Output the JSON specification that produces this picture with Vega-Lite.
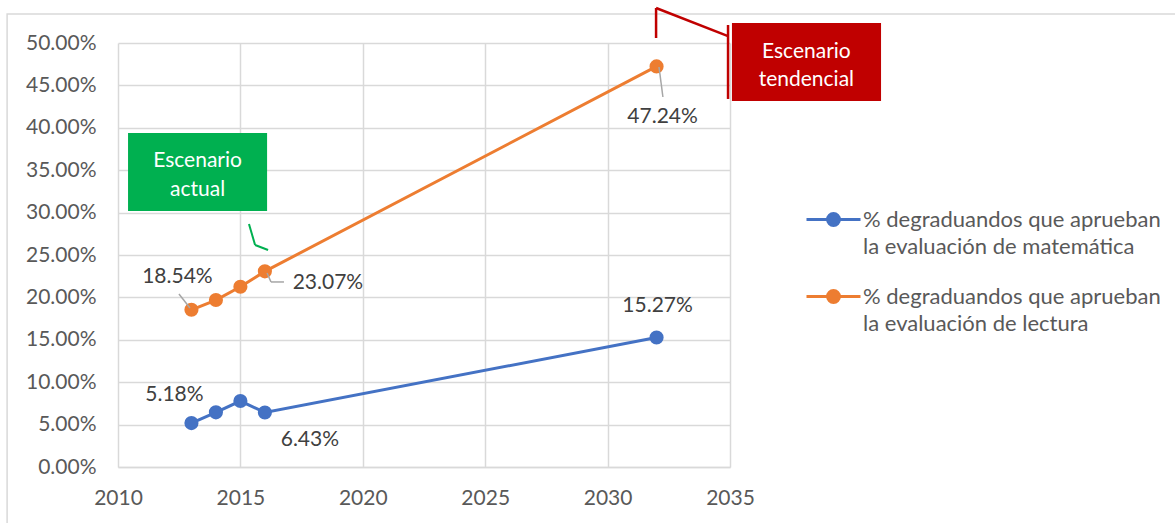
{
  "$schema": "https://vega.github.io/schema/vega-lite/v6.json",
  "width": 612,
  "height": 424,
  "autosize": {"type": "none"},
  "padding": {"left": 118, "top": 43, "right": 445, "bottom": 56},
  "background": "white",
  "config": {
    "font": "Lato",
    "view": {"stroke": null},
    "axis": {
      "labelFont": "Lato",
      "labelFontSize": 21,
      "labelColor": "#595959",
      "gridColor": "#d9d9d9",
      "gridWidth": 1.5,
      "domainColor": "#d9d9d9",
      "domainWidth": 1.5,
      "ticks": false,
      "labelFlush": false,
      "labelOverlap": false,
      "title": null
    }
  },
  "datasets": {
    "series": [
      {"serie": "mat", "anio": 2013, "valor": 0.0518},
      {"serie": "mat", "anio": 2014, "valor": 0.0645},
      {"serie": "mat", "anio": 2015, "valor": 0.0778},
      {"serie": "mat", "anio": 2016, "valor": 0.0643},
      {"serie": "mat", "anio": 2032, "valor": 0.1527},
      {"serie": "lec", "anio": 2013, "valor": 0.1854},
      {"serie": "lec", "anio": 2014, "valor": 0.1969},
      {"serie": "lec", "anio": 2015, "valor": 0.2126},
      {"serie": "lec", "anio": 2016, "valor": 0.2307},
      {"serie": "lec", "anio": 2032, "valor": 0.4724}
    ],
    "leaders": [
      {"a": 2012.49, "b": 0.2040, "a2": 2012.94, "b2": 0.1875},
      {"a": 2016.09, "b": 0.2288, "a2": 2016.25, "b2": 0.2182},
      {"a": 2016.25, "b": 0.2182, "a2": 2016.78, "b2": 0.2182},
      {"a": 2032.10, "b": 0.4717, "a2": 2032.26, "b2": 0.4363}
    ],
    "green": [
      {"a": 2015.35, "b": 0.2865, "a2": 2015.60, "b2": 0.2618},
      {"a": 2015.60, "b": 0.2618, "a2": 2016.13, "b2": 0.2559}
    ],
    "red": [
      {"a": 2031.98, "b": 0.5059, "a2": 2031.98, "b2": 0.5413},
      {"a": 2031.98, "b": 0.5413, "a2": 2034.92, "b2": 0.5082},
      {"a": 2034.92, "b": 0.5212, "a2": 2034.92, "b2": 0.4340}
    ]
  },
  "layer": [
    {
      "data": {"values": [{}]},
      "mark": {"type": "rect", "fill": null, "stroke": "#d9d9d9", "strokeWidth": 1.5},
      "encoding": {
        "x": {"datum": 2005.47, "type": "quantitative", "scale": {"domain": [2010, 2035], "nice": false, "zero": false}},
        "x2": {"datum": 2070},
        "y": {"datum": 0.5342, "type": "quantitative", "scale": {"domain": [0, 0.5], "nice": false}},
        "y2": {"datum": -0.3}
      }
    },
    {
      "data": {"name": "series"},
      "mark": {"type": "line", "strokeWidth": 3, "point": {"filled": true, "size": 200, "opacity": 1}},
      "encoding": {
        "x": {
          "field": "anio", "type": "quantitative",
          "scale": {"domain": [2010, 2035], "nice": false, "zero": false},
          "axis": {"values": [2010, 2015, 2020, 2025, 2030, 2035], "format": "d", "labelPadding": 20, "grid": true, "domain": true, "labelFlush": false}
        },
        "y": {
          "field": "valor", "type": "quantitative",
          "scale": {"domain": [0, 0.5], "nice": false},
          "axis": {"values": [0, 0.05, 0.1, 0.15, 0.2, 0.25, 0.3, 0.35, 0.4, 0.45, 0.5], "format": ".2%", "labelPadding": 22, "grid": true, "domain": false, "labelFlush": false}
        },
        "color": {
          "field": "serie", "type": "nominal",
          "scale": {"domain": ["mat", "lec"], "range": ["#4472C4", "#ED7D31"]},
          "legend": {
            "title": null,
            "orient": "none",
            "legendX": 687,
            "legendY": 148,
            "padding": 0,
            "symbolType": "M-1,0L1,0M-0.22,0A0.22,0.22,0,1,1,0.22,0A0.22,0.22,0,1,1,-0.22,0Z",
            "symbolSize": 2916,
            "symbolStrokeWidth": 3,
            "labelFont": "Lato",
            "labelFontSize": 22,
            "labelColor": "#595959",
            "labelLimit": 500,
            "labelOffset": 1,
            "rowPadding": 10,
            "labelBaseline": "middle",
            "labelExpr": "datum.value == 'mat' ? ['% degraduandos que aprueban', 'la evaluación de matemática'] : ['% degraduandos que aprueban', 'la evaluación de lectura']",
            "encode": {
              "symbols": {"update": {"fill": {"scale": "color", "field": "value"}, "stroke": {"scale": "color", "field": "value"}, "strokeWidth": {"value": 3}}},
              "labels": {"update": {"lineHeight": {"value": 27.5}}}
            }
          }
        }
      }
    },
    {
      "data": {"name": "leaders"},
      "mark": {"type": "rule", "color": "#A6A6A6", "strokeWidth": 1.5},
      "encoding": {"x": {"field": "a", "type": "quantitative"}, "y": {"field": "b", "type": "quantitative"}, "x2": {"field": "a2"}, "y2": {"field": "b2"}}
    },
    {
      "data": {"name": "green"},
      "mark": {"type": "rule", "color": "#00B050", "strokeWidth": 2},
      "encoding": {"x": {"field": "a", "type": "quantitative"}, "y": {"field": "b", "type": "quantitative"}, "x2": {"field": "a2"}, "y2": {"field": "b2"}}
    },
    {
      "data": {"name": "red"},
      "mark": {"type": "rule", "color": "#C00000", "strokeWidth": 2.5},
      "encoding": {"x": {"field": "a", "type": "quantitative"}, "y": {"field": "b", "type": "quantitative"}, "x2": {"field": "a2"}, "y2": {"field": "b2"}}
    },
    {
      "data": {"values": [{}]},
      "mark": {"type": "rect", "fill": "#00B050"},
      "encoding": {"x": {"datum": 2010.41, "type": "quantitative"}, "x2": {"datum": 2016.09}, "y": {"datum": 0.3939, "type": "quantitative"}, "y2": {"datum": 0.3019}}
    },
    {
      "data": {"values": [{}]},
      "mark": {"type": "text", "text": ["Escenario", "actual"], "color": "white", "fontSize": 21, "lineHeight": 29, "align": "center", "baseline": "middle", "dy": -14},
      "encoding": {"x": {"datum": 2013.25, "type": "quantitative"}, "y": {"datum": 0.3443, "type": "quantitative"}}
    },
    {
      "data": {"values": [{}]},
      "mark": {"type": "rect", "fill": "#C00000"},
      "encoding": {"x": {"datum": 2035.08, "type": "quantitative"}, "x2": {"datum": 2041.17}, "y": {"datum": 0.5236, "type": "quantitative"}, "y2": {"datum": 0.4316}}
    },
    {
      "data": {"values": [{}]},
      "mark": {"type": "text", "text": ["Escenario", "tendencial"], "color": "white", "fontSize": 21, "lineHeight": 28, "align": "center", "baseline": "middle", "dy": -14},
      "encoding": {"x": {"datum": 2038.12, "type": "quantitative"}, "y": {"datum": 0.4729, "type": "quantitative"}}
    },
    {
      "data": {"name": "series"},
      "transform": [{"filter": "datum.serie == 'mat' && datum.anio == 2013"}],
      "mark": {"type": "text", "fontSize": 21, "color": "#404040", "dx": -17, "dy": -28},
      "encoding": {"x": {"field": "anio", "type": "quantitative"}, "y": {"field": "valor", "type": "quantitative"}, "text": {"field": "valor", "format": ".2%"}}
    },
    {
      "data": {"name": "series"},
      "transform": [{"filter": "datum.serie == 'mat' && datum.anio == 2016"}],
      "mark": {"type": "text", "fontSize": 21, "color": "#404040", "dx": 45, "dy": 28},
      "encoding": {"x": {"field": "anio", "type": "quantitative"}, "y": {"field": "valor", "type": "quantitative"}, "text": {"field": "valor", "format": ".2%"}}
    },
    {
      "data": {"name": "series"},
      "transform": [{"filter": "datum.serie == 'mat' && datum.anio == 2032"}],
      "mark": {"type": "text", "fontSize": 21, "color": "#404040", "dx": 1, "dy": -32},
      "encoding": {"x": {"field": "anio", "type": "quantitative"}, "y": {"field": "valor", "type": "quantitative"}, "text": {"field": "valor", "format": ".2%"}}
    },
    {
      "data": {"name": "series"},
      "transform": [{"filter": "datum.serie == 'lec' && datum.anio == 2013"}],
      "mark": {"type": "text", "fontSize": 21, "color": "#404040", "dx": -14, "dy": -33},
      "encoding": {"x": {"field": "anio", "type": "quantitative"}, "y": {"field": "valor", "type": "quantitative"}, "text": {"field": "valor", "format": ".2%"}}
    },
    {
      "data": {"name": "series"},
      "transform": [{"filter": "datum.serie == 'lec' && datum.anio == 2016"}],
      "mark": {"type": "text", "fontSize": 21, "color": "#404040", "dx": 63, "dy": 12},
      "encoding": {"x": {"field": "anio", "type": "quantitative"}, "y": {"field": "valor", "type": "quantitative"}, "text": {"field": "valor", "format": ".2%"}}
    },
    {
      "data": {"name": "series"},
      "transform": [{"filter": "datum.serie == 'lec' && datum.anio == 2032"}],
      "mark": {"type": "text", "fontSize": 21, "color": "#404040", "dx": 6, "dy": 51},
      "encoding": {"x": {"field": "anio", "type": "quantitative"}, "y": {"field": "valor", "type": "quantitative"}, "text": {"field": "valor", "format": ".2%"}}
    }
  ]
}
